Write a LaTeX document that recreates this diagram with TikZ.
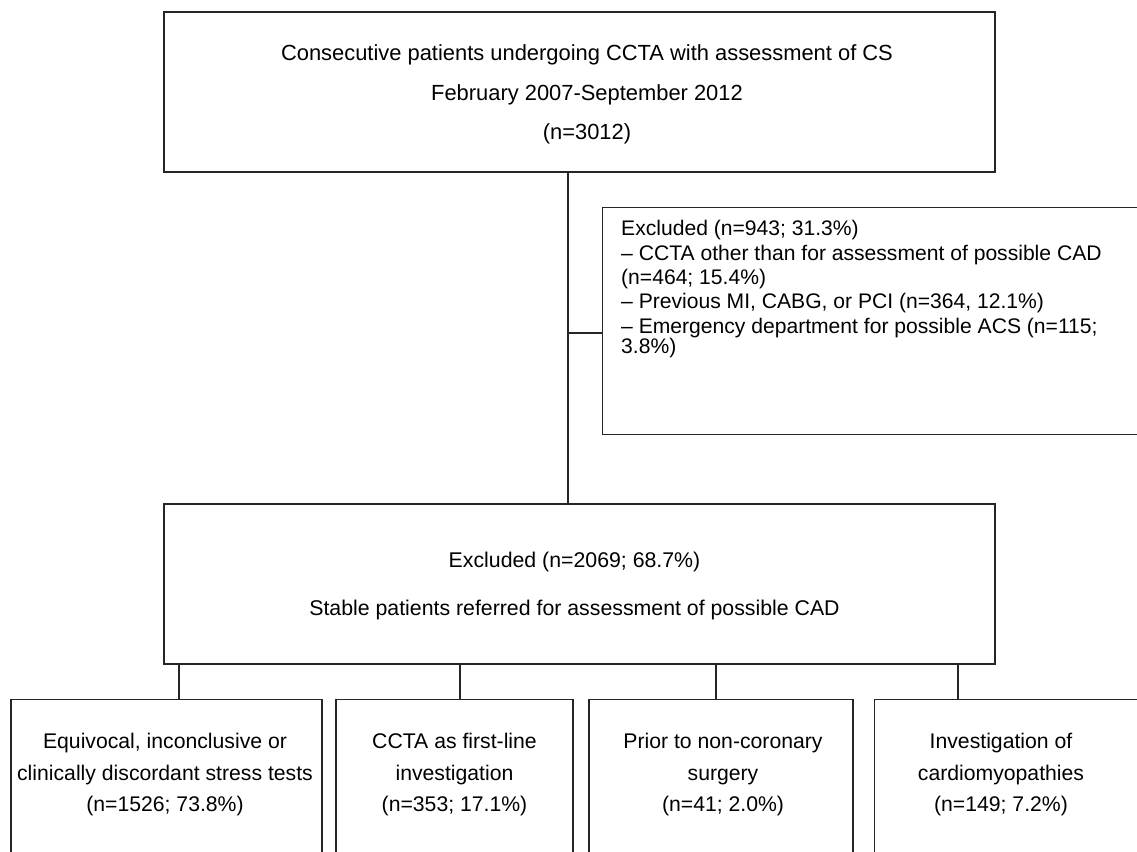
\documentclass[tikz,border=0pt]{standalone}
\usepackage{fontspec}
\setmainfont{Liberation Sans}
\tikzset{
  boxnode/.style={draw=black!85, line width=1.2pt, fill=none, inner sep=0pt, rectangle},
  txtnode/.style={inner sep=0pt, text=black, align=center},
  conn/.style={draw=black!85, line width=1.2pt},
}
\newcommand{\fsA}{\fontsize{21.9pt}{39.5pt}\selectfont}
\newcommand{\fsB}{\fontsize{21.3pt}{48pt}\selectfont}
\newcommand{\fsC}{\fontsize{21.2pt}{31.5pt}\selectfont}
\newcommand{\fsD}{\fontsize{21.1pt}{24.3pt}\selectfont}
\begin{document}
\begin{tikzpicture}[x=1pt,y=-1pt]
\useasboundingbox (0,0) rectangle (1137,851);
\clip (0,0) rectangle (1137,851);
\fill[white] (0,0) rectangle (1137,851);

% boxes
\node[boxnode, minimum width=831pt, minimum height=160pt] (top) at (579.5,92) {};
\node[boxnode, minimum width=831pt, minimum height=160pt] (mid) at (579.5,584) {};
\node[boxnode, anchor=north west, minimum width=620pt, minimum height=227pt] (excl) at (602,207) {};
\node[boxnode, anchor=north, minimum width=311pt, minimum height=250pt] (b1) at (166.5,699) {};
\node[boxnode, anchor=north, minimum width=237pt, minimum height=250pt] (b2) at (454.5,699) {};
\node[boxnode, anchor=north, minimum width=264pt, minimum height=250pt] (b3) at (721,699) {};
\node[boxnode, anchor=north west, minimum width=320pt, minimum height=250pt] (b4) at (874,699) {};

% texts
\node[txtnode, font=\fsA] (ttop) at (587,94.7)
  {Consecutive patients undergoing CCTA with assessment of CS\\February 2007-September 2012\\(n=3012)};
\node[txtnode, font=\fsB] (tmid) at (574.5,586.3)
  {Excluded (n=2069; 68.7\%)\\Stable patients referred for assessment of possible CAD};
\node[txtnode, font=\fsD, align=left, anchor=north west] (texcl) at (621,220.5)
  {Excluded (n=943; 31.3\%)\\
   – CCTA other than for assessment of possible CAD\\
   (n=464; 15.4\%)\\
   – Previous MI, CABG, or PCI (n=364, 12.1\%)\\
   – Emergency department for possible ACS (n=115;\\[-3.8pt]
   3.8\%)};
\node[txtnode, font=\fsC] (tb1) at (165,774.75)
  {Equivocal, inconclusive or\\clinically discordant stress tests\\(n=1526; 73.8\%)};
\node[txtnode, font=\fsC] (tb2) at (454.5,774.75)
  {CCTA as first-line\\investigation\\(n=353; 17.1\%)};
\node[txtnode, font=\fsC] (tb3) at (723,774.75)
  {Prior to non-coronary\\surgery\\(n=41; 2.0\%)};
\node[txtnode, font=\fsC] (tb4) at (1001,774.75)
  {Investigation of\\cardiomyopathies\\(n=149; 7.2\%)};

% connectors
\coordinate (cx) at (568,0);
\coordinate (br) at (568,333);
\coordinate (c1) at (179,0);
\coordinate (c2) at (460,0);
\coordinate (c3) at (716,0);
\coordinate (c4) at (958,0);
\draw[conn] (top.south -| cx) -- (mid.north -| cx);
\draw[conn] (br) -- (br -| excl.west);
\draw[conn] (mid.south -| c1) -- (b1.north -| c1);
\draw[conn] (mid.south -| c2) -- (b2.north -| c2);
\draw[conn] (mid.south -| c3) -- (b3.north -| c3);
\draw[conn] (mid.south -| c4) -- (b4.north -| c4);
\end{tikzpicture}
\end{document}
